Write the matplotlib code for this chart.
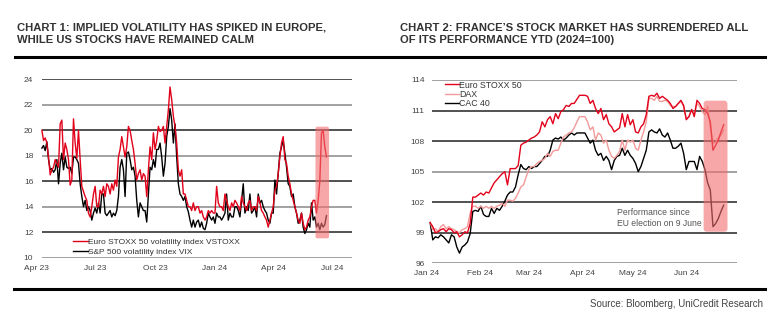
import pandas as pd
import matplotlib
matplotlib.use("Agg")
import matplotlib.pyplot as plt
import matplotlib.dates as mdates
from matplotlib.patches import FancyBboxPatch

plt.rcParams['font.family'] = ['Liberation Sans', 'DejaVu Sans']

# ---------------------------------------------------------
# Chart 1 data: implied volatility (Apr 2023 - Jun 2024)
# ---------------------------------------------------------
vstoxx = [
    20.0, 19.2, 19.4, 19.0, 17.9, 16.5, 16.9, 17.1, 17.7, 17.4,
    17.1, 20.5, 20.8, 17.7, 19.0, 18.5, 17.7, 15.7, 16.1, 20.9,
    19.0, 17.8, 20.0, 17.7, 15.6, 15.2, 14.8, 14.5, 13.5, 13.2,
    14.0, 15.0, 15.6, 14.0, 14.0, 15.3, 15.0, 15.6, 14.8, 15.8,
    15.6, 15.0, 15.8, 15.3, 16.1, 15.6, 17.9, 18.5, 19.5, 18.7,
    17.9, 18.7, 20.3, 20.0, 19.2, 18.5, 17.4, 16.1, 16.6, 16.9,
    16.1, 16.6, 16.4, 14.8, 16.9, 18.7, 17.7, 19.8, 18.5, 19.2,
    20.3, 19.9, 20.0, 20.3, 19.0, 20.3, 21.6, 23.4, 22.4, 21.1,
    20.3, 19.0, 16.9, 16.4, 16.9, 15.0, 15.0, 14.5, 14.0, 14.0,
    13.7, 14.3, 13.7, 14.0, 14.0, 13.5, 13.7, 13.2, 12.95, 13.2,
    13.7, 13.5, 13.7, 13.5, 13.5, 15.6, 14.3, 14.0, 14.0, 13.7,
    15.0, 14.5, 14.0, 13.7, 14.3, 14.0, 14.5, 14.3, 14.0, 13.7,
    14.8, 14.3, 14.0, 13.7, 14.3, 14.5, 13.7, 14.0, 14.0, 13.7,
    14.8, 14.3, 13.7, 13.5, 13.2, 12.95, 12.4, 12.95, 13.5, 14.0,
    15.3, 15.6, 16.6, 17.9, 19.0, 19.5, 17.7, 17.4, 16.4, 15.8,
    15.0, 14.5, 14.0, 13.5, 12.95, 12.7, 13.5, 12.7, 12.2, 12.4,
    12.95, 13.2, 14.0, 14.5, 14.5, 13.5, 14.5, 16.0, 19.8, 20.0,
    18.7, 17.9,
]
vix = [
    18.6, 18.8, 18.4, 19.1, 17.7, 16.9, 17.0, 16.7, 16.9, 17.7,
    15.8, 17.4, 18.2, 16.9, 17.9, 17.1, 17.0, 17.1, 16.6, 17.9,
    17.9, 17.7, 17.4, 15.8, 14.8, 14.0, 14.5, 13.7, 14.0, 13.7,
    12.95, 13.5, 13.9, 13.5, 14.3, 13.5, 15.0, 15.0, 13.5, 13.3,
    13.5, 13.7, 13.2, 13.5, 13.3, 13.7, 14.8, 17.1, 17.7, 16.9,
    14.8, 18.2, 18.3, 17.7, 16.9, 17.1, 16.4, 14.5, 13.2, 14.3,
    14.0, 13.7, 13.7, 12.8, 15.0, 17.1, 16.9, 17.7, 17.1, 18.5,
    18.5, 19.0, 17.9, 16.4, 17.4, 19.5, 20.3, 21.7, 20.8, 19.0,
    20.5, 17.9, 15.8, 15.0, 14.8, 14.5, 14.8, 14.0, 13.6, 12.95,
    12.4, 12.95, 12.4, 12.8, 12.95, 12.4, 12.8, 12.3, 12.2, 12.7,
    13.5, 13.2, 12.95, 13.2, 12.7, 13.5, 13.2, 13.2, 12.95, 13.2,
    13.5, 15.0, 12.95, 13.5, 13.2, 13.2, 14.0, 14.0, 13.7, 13.2,
    14.5, 15.8, 13.5, 14.0, 13.7, 15.0, 13.5, 13.7, 14.0, 13.2,
    15.0, 14.3, 14.5, 14.0, 13.7, 13.5, 12.95, 12.7, 13.5, 13.5,
    16.1, 15.0, 16.6, 18.2, 18.7, 19.2, 18.2, 17.1, 15.8, 15.6,
    14.8, 15.0, 14.0, 13.5, 12.7, 12.95, 13.5, 12.4, 11.9, 12.2,
    12.7, 12.4, 14.3, 12.95, 13.2, 12.4, 12.7, 12.2, 12.7, 12.4,
    12.6, 13.3,
]
vol_start, vol_end = "2023-04-09", "2024-06-22"
vol_labels = ["Euro STOXX 50 volatility index VSTOXX", "S&P 500 volatility index VIX"]
vol_ticks = ["2023-04-01", "2023-07-01", "2023-10-01", "2024-01-01", "2024-04-01", "2024-07-01"]

# ---------------------------------------------------------
# Chart 2 data: equity indices YTD (2024=100)
# ---------------------------------------------------------
sx5e = [
    100.0, 99.6, 99.0, 99.1, 99.3, 99.4, 99.1, 99.4, 99.3, 99.0,
    99.1, 98.6, 98.8, 99.1, 99.0, 99.9, 102.5, 102.5, 102.7, 102.9,
    102.7, 103.0, 102.9, 103.4, 103.9, 104.2, 104.5, 104.8, 105.0, 103.7,
    105.3, 105.3, 105.3, 105.6, 107.6, 107.8, 107.9, 108.1, 108.3, 108.4,
    108.6, 108.9, 109.9, 109.4, 110.1, 110.4, 109.7, 110.7, 110.2, 110.9,
    111.1, 111.5, 111.4, 111.7, 111.7, 112.1, 112.5, 112.5, 112.5, 112.4,
    111.7, 112.0, 111.2, 110.7, 111.2, 110.1, 110.6, 109.7, 109.4, 108.9,
    109.1, 109.3, 110.7, 109.4, 110.6, 109.6, 110.1, 108.9, 108.8, 109.4,
    109.7, 110.6, 112.4, 112.5, 112.4, 112.7, 112.2, 112.4, 112.2, 112.0,
    111.7, 111.2, 111.4, 111.7, 112.0, 111.5, 110.1, 110.4, 111.1, 110.4,
    112.0, 111.7, 111.2, 111.1, 110.7, 109.9, 107.1, 107.6, 108.1, 108.9,
    109.6,
]
dax = [
    100.0, 99.3, 99.4, 99.1, 99.6, 99.8, 99.4, 99.6, 99.4, 99.3,
    99.1, 99.0, 99.3, 99.4, 99.6, 100.9, 101.6, 101.6, 101.4, 101.6,
    101.4, 101.6, 101.4, 101.6, 101.4, 101.6, 101.7, 101.9, 101.6, 102.2,
    102.2, 102.1, 102.4, 102.9, 103.5, 103.7, 104.5, 105.2, 105.5, 105.5,
    105.8, 106.0, 106.1, 106.3, 106.8, 106.5, 107.0, 107.1, 107.1, 107.8,
    108.4, 108.6, 108.8, 108.9, 109.3, 109.9, 110.4, 110.4, 110.4, 109.9,
    109.1, 109.4, 108.1, 108.8, 108.6, 107.8, 108.1, 107.1, 106.5, 106.3,
    106.6, 107.0, 108.1, 107.1, 108.1, 107.9, 108.1, 107.3, 107.1, 108.1,
    108.9, 109.9, 112.2, 112.2, 112.0, 112.4, 111.9, 111.9, 112.0, 111.9,
    111.5, 111.4, 111.4, 111.7, 111.9, 111.4, 110.2, 110.4, 111.1, 110.7,
    111.7, 111.4, 110.9, 110.6, 111.4, 109.4, 107.8, 107.9, 108.3, 108.6,
    109.1,
]
cac = [
    100.0, 98.3, 98.6, 98.5, 98.8, 98.6, 98.3, 98.0, 98.8, 98.6,
    97.6, 97.0, 97.6, 97.8, 98.1, 98.9, 101.1, 101.2, 101.1, 101.6,
    100.8, 100.6, 100.6, 101.4, 100.9, 101.4, 101.2, 101.6, 102.1, 102.7,
    103.0, 103.0, 103.5, 104.7, 105.7, 105.3, 105.2, 105.5, 105.3, 105.5,
    105.5, 105.8, 106.1, 106.5, 106.5, 107.1, 108.1, 108.3, 108.2, 108.4,
    108.1, 108.3, 108.6, 108.8, 108.6, 108.8, 108.8, 108.8, 108.8, 108.3,
    107.8, 108.1, 107.1, 106.6, 106.8, 106.1, 106.5, 106.1, 105.2, 106.1,
    106.5, 106.6, 107.3, 106.6, 107.1, 106.6, 106.3, 105.8, 105.0, 105.5,
    106.3, 107.1, 108.9, 109.1, 108.9, 108.8, 109.2, 108.6, 108.4, 108.8,
    108.1, 107.3, 107.3, 107.5, 107.8, 106.8, 105.2, 106.0, 106.0, 106.0,
    105.2, 106.5, 106.0, 105.2, 103.9, 103.2, 99.6, 99.9, 100.4, 101.1,
    101.7,
]
eq_start, eq_end = "2024-01-03", "2024-06-23"
eq_labels = ["Euro STOXX 50", "DAX", "CAC 40"]
eq_ticks = ["2024-01-01", "2024-02-01", "2024-03-01", "2024-04-01", "2024-05-01", "2024-06-01"]

RED = "#e2001a"
PINK = "#f39a9a"
BOX = "#f26d6d"
TXT = "#333333"


def px_axes(fig, left, top, right, bottom):
    W, H = 773.0, 327.0
    return fig.add_axes([left / W, 1 - bottom / H, (right - left) / W, (bottom - top) / H])


def grid(ax, levels, colors, x0, x1):
    for lv, c in zip(levels, colors):
        ax.hlines(lv, pd.Timestamp(x0), pd.Timestamp(x1), color=c, lw=1.1, zorder=1)


def style(ax, ypad):
    for s in ax.spines.values():
        s.set_visible(False)
    ax.tick_params(axis="both", length=0, labelsize=6, colors="#444444")
    ax.tick_params(axis="y", pad=ypad)
    ax.tick_params(axis="x", pad=5)
    ax.xaxis.set_major_formatter(mdates.DateFormatter("%b %y"))


fig = plt.figure(figsize=(7.73, 3.27), dpi=100)

# ---------------------------------------------------------
# Chart 1
# ---------------------------------------------------------
ax1 = px_axes(fig, 36.7, 79.3, 351.7, 257.7)
d1 = pd.date_range(vol_start, vol_end, periods=len(vstoxx))
ax1.set_xlim(pd.Timestamp("2023-04-01"), pd.Timestamp("2024-07-31"))
ax1.set_ylim(10, 24)
ax1.set_yticks(range(10, 25, 2))
ax1.set_xticks(pd.to_datetime(vol_ticks))
grid(ax1, range(10, 25, 2),
     ["#888888", "#222222"] * 4, "2023-04-09", "2024-07-31")
l1, = ax1.plot(d1, vstoxx, color=RED, lw=1.0, zorder=3)
l2, = ax1.plot(d1, vix, color="black", lw=1.0, zorder=2)
x0, x1 = mdates.date2num(pd.Timestamp("2024-06-05")), mdates.date2num(pd.Timestamp("2024-06-26"))
ax1.add_patch(FancyBboxPatch((x0, 11.52), x1 - x0, 20.28 - 11.52,
                             boxstyle="round,pad=0,rounding_size=3",
                             mutation_aspect=0.0508, fc=BOX, ec="none",
                             alpha=0.6, zorder=4))
style(ax1, 2.5)
ax1.legend([l1, l2], vol_labels, loc="lower left", frameon=False,
           bbox_to_anchor=(72.5 / 773, 1 - 256 / 327), bbox_transform=fig.transFigure,
           fontsize=6, handlelength=1.8, handletextpad=0.1, labelspacing=0.3,
           borderpad=0, borderaxespad=0, labelcolor="#333333")

# ---------------------------------------------------------
# Chart 2
# ---------------------------------------------------------
ax2 = px_axes(fig, 426.7, 80.0, 737.3, 263.3)
d2 = pd.date_range(eq_start, eq_end, periods=len(sx5e))
ax2.set_xlim(pd.Timestamp("2024-01-01"), pd.Timestamp("2024-07-01"))
ax2.set_ylim(96, 114)
ax2.set_yticks(range(96, 115, 3))
ax2.set_xticks(pd.to_datetime(eq_ticks))
grid(ax2, range(96, 115, 3),
     ["#888888", "#222222", "#222222", "#888888", "#222222", "#222222", "#888888"],
     "2024-01-04", "2024-07-01")
m1, = ax2.plot(d2, sx5e, color=RED, lw=1.0, zorder=4)
m2, = ax2.plot(d2, dax, color=PINK, lw=1.0, zorder=3)
m3, = ax2.plot(d2, cac, color="black", lw=1.0, zorder=2)
x0, x1 = mdates.date2num(pd.Timestamp("2024-06-11 06:00")), mdates.date2num(pd.Timestamp("2024-06-25 06:00"))
ax2.add_patch(FancyBboxPatch((x0, 99.1), x1 - x0, 111.97 - 99.1,
                             boxstyle="round,pad=0,rounding_size=1.8",
                             mutation_aspect=0.168, fc=BOX, ec="none",
                             alpha=0.6, zorder=5))
ax2.text(pd.Timestamp("2024-04-21 16:00"), 100.43, "Performance since\nEU election on 9 June",
         fontsize=6.2, color="#555555", va="center", ha="left", linespacing=1.2)
style(ax2, 1.5)
ax2.legend([m1, m2, m3], eq_labels, loc="upper left", frameon=False,
           bbox_to_anchor=(444.5 / 773, 1 - 80.5 / 327), bbox_transform=fig.transFigure,
           fontsize=6.3, handlelength=1.6, handletextpad=0.1, labelspacing=0.05,
           borderpad=0, borderaxespad=0, labelcolor="#333333")

# ---------------------------------------------------------
# Titles, rules, source
# ---------------------------------------------------------
fig.text(16.7 / 773, 1 - 31 / 327, "CHART 1: IMPLIED VOLATILITY HAS SPIKED IN EUROPE,",
         fontsize=8.15, fontweight="bold", color=TXT, va="baseline")
fig.text(16.7 / 773, 1 - 43.3 / 327, "WHILE US STOCKS HAVE REMAINED CALM",
         fontsize=8.15, fontweight="bold", color=TXT, va="baseline")
fig.text(400 / 773, 1 - 31 / 327, "CHART 2: FRANCE\u2019S STOCK MARKET HAS SURRENDERED ALL",
         fontsize=8.15, fontweight="bold", color=TXT, va="baseline")
fig.text(400 / 773, 1 - 43.3 / 327, "OF ITS PERFORMANCE YTD (2024=100)",
         fontsize=8.15, fontweight="bold", color=TXT, va="baseline")
fig.add_artist(plt.Line2D([15 / 773, 765 / 773], [1 - 56.7 / 327] * 2, color="black", lw=2.2))
fig.add_artist(plt.Line2D([14 / 773, 765 / 773], [1 - 288.7 / 327] * 2, color="black", lw=2.2))
fig.text(763.3 / 773, 1 - 304 / 327, "Source: Bloomberg, UniCredit Research",
         fontsize=7, color="#444444", ha="right", va="center")

fig.savefig("out.png", dpi=100)
